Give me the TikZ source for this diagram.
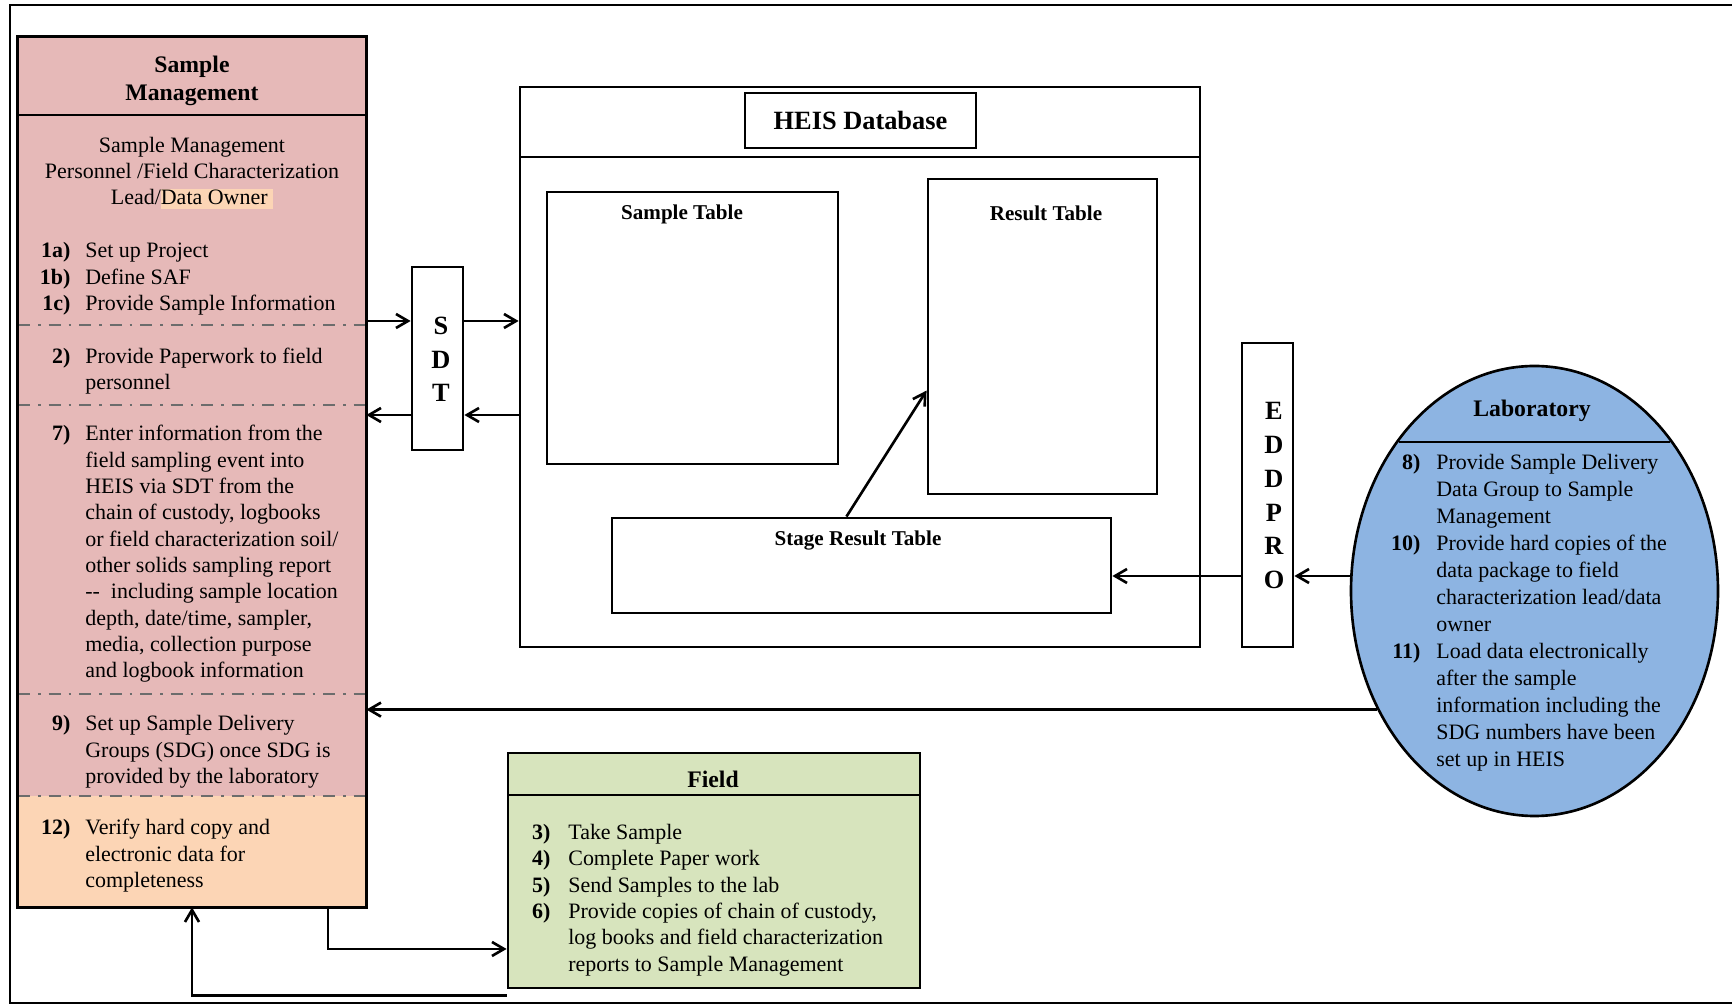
\documentclass[tikz,border=0pt]{standalone}
\usepackage{fontspec}
\setmainfont{Liberation Serif}
\usepackage{array}
\usetikzlibrary{positioning}
\usetikzlibrary{arrows.meta,shapes.geometric}
\usetikzlibrary{calc}

\definecolor{smpink}{HTML}{E6B9B8}
\definecolor{smorange}{HTML}{FCD5B5}
\definecolor{fieldgreen}{HTML}{D7E4BD}
\definecolor{labblue}{HTML}{8DB4E2}

\newcommand{\stepitems}[3]{\begin{tabular}{@{}>{\raggedleft\bfseries}p{#1}@{\hspace{#2}}>{\raggedright\arraybackslash}p{70mm}@{}}#3\end{tabular}}

\begin{document}
\begin{tikzpicture}[x=0.2mm, y=-0.2mm,
    box/.style={draw, line width=1.6pt, inner sep=0pt},
    body/.style={inner sep=0pt, font=\fontsize{12.5}{15}\selectfont},
    headtxt/.style={inner sep=0pt, font=\fontsize{13.5}{16}\selectfont\bfseries, align=center},
    tbl/.style={inner sep=0pt, font=\fontsize{12}{14}\selectfont\bfseries},
    letter/.style={inner sep=0pt, font=\fontsize{15}{15}\selectfont\bfseries},
    divline/.style={draw=gray!85!black, line width=1.6pt, dash pattern=on 2.4mm off 1.6mm on 0.5mm off 1.6mm},
    link/.style={line width=1.5pt, -{Straight Barb[length=2.4mm,width=2.8mm]}}]

   \def\pxu{0.2mm}
   \useasboundingbox (0,0) rectangle (1732,1005);

   % outer frame
   \draw[line width=1.6pt] (1732,5) -- (10,5) -- (10,1003) -- (1732,1003);

   % Sample Management
   \node[inner sep=0pt, fill=smpink, minimum width=348*\pxu, minimum height=870*\pxu] (sm) at (192,472) {};
   \fill[smorange] (18,796) rectangle (366,907);
   \foreach \y in {325, 405, 694, 796}
       \draw[divline] (18,\y) -- (366,\y);
   \draw[line width=1.6pt] (18,115) -- (366,115);
   \draw[line width=1.9pt] (sm.south west) rectangle (sm.north east);

   \node[headtxt] (smhead) at (192,81) {Sample\\Management};
   \node[body, align=center] (smwho) at (192,173) {Sample Management\\Personnel /Field Characterization\\Lead/{\setlength{\fboxsep}{0pt}\colorbox{smorange}{\rule[-2.3pt]{0pt}{11.4pt}Data Owner\ }}};

   \node[body, anchor=west] (step1) at (30,279) {\stepitems{8mm}{3mm}{1a) & Set up Project\\ 1b) & Define SAF\\ 1c) & Provide Sample Information}};
   \node[body, anchor=west] (step2) at (30,371) {\stepitems{8mm}{3mm}{2) & Provide Paperwork to field\newline personnel}};
   \node[body, anchor=west] (step7) at (30,554) {\stepitems{8mm}{3mm}{7) & Enter information from the\newline field sampling event into\newline HEIS via SDT from the\newline chain of custody, logbooks\newline or field characterization soil/\newline other solids sampling report\newline -{}-\ \ including sample location\newline depth, date/time, sampler,\newline media, collection purpose\newline and logbook information}};
   \node[body, anchor=west] (step9) at (30,752) {\stepitems{8mm}{3mm}{9) & Set up Sample Delivery\newline Groups (SDG) once SDG is\newline provided by the laboratory}};
   \node[body, anchor=west] (step12) at (30,856) {\stepitems{8mm}{3mm}{12) & Verify hard copy and\newline electronic data for\newline completeness}};

   % HEIS database
   \node[box, minimum width=680*\pxu, minimum height=560*\pxu] (heis) at (860,367) {};
   \draw[line width=1.6pt] (520,157) -- (1200,157);
   \node[box, minimum width=231*\pxu, minimum height=55*\pxu, font=\fontsize{15}{15}\selectfont\bfseries] (heistitle) at (860.5,120.5) {HEIS Database};

   \node[box, minimum width=291*\pxu, minimum height=272*\pxu] (sample) at (692.5,328) {};
   \node[tbl] (samplelbl) at (682,214) {Sample Table};
   \node[box, minimum width=229*\pxu, minimum height=315*\pxu] (result) at (1042.5,336.5) {};
   \node[tbl] (resultlbl) at (1046,213) {Result Table};
   \node[box, minimum width=499*\pxu, minimum height=95*\pxu] (stage) at (861.5,565.5) {};
   \node[tbl] (stagelbl) at (858,541) {Stage Result Table};

   % SDT and EDDPRO
   \node[box, minimum width=51*\pxu, minimum height=183*\pxu] (sdt) at (437.5,358.5) {};
   \foreach \i/\name in {0/S, 1/D, 2/T}
       \node[letter] (sdt\name) at (441, 326+33.5*\i) {\name};
   \node[box, minimum width=51*\pxu, minimum height=304*\pxu] (eddpro) at (1267.5,495) {};
   \foreach \i/\name in {0/E, 1/D, 2/D, 3/P, 4/R, 5/O}
       \node[letter] (edd\i) at (1274, 411+33.8*\i) {\name};

   % Laboratory
   \node[ellipse, draw, line width=1.5pt, fill=labblue, inner sep=0pt, minimum width=367*\pxu, minimum height=450*\pxu] (lab) at (1534.5,591) {};
   \draw[line width=1.5pt] (1399,442) -- (1670,442);
   \node[headtxt] (labhead) at (1532,411) {Laboratory};
   \node[body, font=\fontsize{12.5}{15.4}\selectfont, anchor=west] (labsteps) at (1380,612.5) {\stepitems{8mm}{3.2mm}{8) & Provide Sample Delivery\newline Data Group to Sample\newline Management\\ 10) & Provide hard copies of the\newline data package to field\newline characterization lead/data\newline owner\\ 11) & Load data electronically\newline after the sample\newline information including the\newline SDG numbers have been\newline set up in HEIS}};

   % Field
   \node[box, fill=fieldgreen, minimum width=412*\pxu, minimum height=235*\pxu] (field) at (714,870.5) {};
   \draw[line width=1.6pt] (508,795) -- (920,795);
   \node[headtxt] (fieldhead) at (713,779) {Field};
   \node[body, anchor=west] (fieldsteps) at (520,900) {\stepitems{6mm}{3.6mm}{3) & Take Sample\\ 4) & Complete Paper work\\ 5) & Send Samples to the lab\\ 6) & Provide copies of chain of custody,\newline log books and field characterization\newline reports to Sample Management}};

   % connectors
   \coordinate (upper) at (0,321);
   \coordinate (lower) at (0,415);
   \coordinate (eddrow) at (0,576);
   \draw[link] (sm.east |- upper) -- (sdt.west |- upper);
   \draw[link] (sdt.east |- upper) -- (heis.west |- upper);
   \draw[link] (heis.west |- lower) -- (sdt.east |- lower);
   \draw[link] (sdt.west |- lower) -- (sm.east |- lower);
   \draw[link] ($(stage.north west)!0.47!(stage.north east)$) -- ($(result.north west)!0.67!(result.south west)$);
   \draw[link] (lab.west |- eddrow) -- (eddpro.east |- eddrow);
   \draw[link] (eddpro.west |- eddrow) -- (stage.east |- eddrow);
   \draw[link] (lab.217.5) -- (lab.217.5 -| sm.east);
   \draw[link] ($(sm.south west)!0.89!(sm.south east)$) |- ($(field.north west)!0.83!(field.south west)$);
   \draw[link] ([yshift=-1.2mm]field.south west) -| (sm.south);

\end{tikzpicture}
\end{document}
